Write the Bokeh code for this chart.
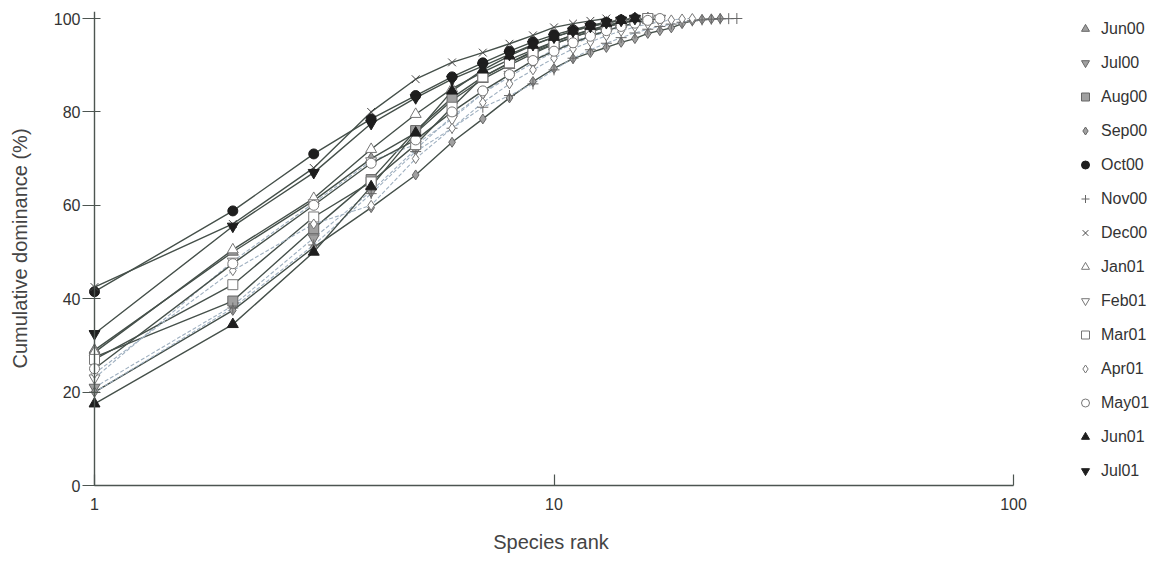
from bokeh.plotting import figure
from bokeh.models import Legend, LegendItem, FixedTicker, Range1d, Span, PrintfTickFormatter
from bokeh.embed import file_html
from bokeh.resources import INLINE

months = ["Jun00", "Jul00", "Aug00", "Sep00", "Oct00", "Nov00", "Dec00",
          "Jan01", "Feb01", "Mar01", "Apr01", "May01", "Jun01", "Jul01"]

jun00 = [29, 50, 61, 70, 75.5, 82.5, 87, 90, 92.5, 94.5, 96, 97.2, 98.2, 99, 99.5, 100]
jul00 = [21, 38.5, 53, 63, 72, 79, 84, 87.5, 90.5, 92.8, 94.5, 96, 97.2, 98.1, 98.9, 99.5, 100]
aug00 = [27.5, 39.5, 55, 65.5, 76, 83, 87.5, 90.5, 93, 95, 96.5, 97.6, 98.5, 99.2, 99.6, 100]
sep00 = [20, 37.5, 51, 59.5, 66.5, 73.5, 78.5, 83, 86.5, 89.3, 91.4, 92.7, 93.8, 94.9, 95.7,
         96.8, 97.4, 98, 98.9, 99.5, 99.8, 99.9, 100]
oct00 = [41.5, 58.8, 71, 78.5, 83.5, 87.5, 90.5, 93, 95, 96.5, 97.6, 98.5, 99.2, 99.7, 100]
nov00 = [20, 38, 51.5, 62.5, 71.5, 76.5, 81, 83.5, 86, 89, 91.5, 93.3, 94.7, 95.9, 96.9,
         97.7, 98.3, 98.8, 99.2, 99.5, 99.7, 99.85, 99.93, 99.97, 100]
dec00 = [42.5, 56, 68, 80, 87, 90.6, 92.7, 94.6, 96.4, 98.1, 98.9, 99.5, 100]
jan01 = [28.5, 50.5, 61.5, 72, 79.5, 85, 88.5, 91.2, 93.3, 95, 96.4, 97.5, 98.4, 99.1, 99.6, 100]
feb01 = [23, 48, 60.5, 69.5, 73, 78.5, 84, 88, 91, 93.3, 95, 96.4, 97.5, 98.4, 99.1, 99.7, 100]
mar01 = [27, 43, 57.5, 65, 73, 81, 87.5, 90.5, 92.8, 94.6, 96, 97.2, 98.2, 99, 99.6, 100]
apr01 = [24, 46, 56, 60, 70, 76.5, 82, 86, 89, 91.5, 93.5, 95, 96.3, 97.3, 98.2, 98.8,
         99.3, 99.7, 99.9, 100]
may01 = [25, 47.5, 60, 69, 74, 80, 84.5, 88, 91, 93, 94.8, 96.2, 97.4, 98.3, 99, 99.6, 100]
jun01 = [17.5, 34.5, 50, 64, 75.5, 84.5, 89, 92, 94.3, 96, 97.3, 98.3, 99, 99.6, 100]
jul01 = [32.5, 55.5, 67, 77.5, 83, 87, 89.8, 92.3, 94.4, 96, 97.3, 98.3, 99.1, 99.6, 100]

series = [jun00, jul00, aug00, sep00, oct00, nov00, dec00,
          jan01, feb01, mar01, apr01, may01, jun01, jul01]

x_ticks = [1, 10, 100]
y_ticks = [0, 20, 40, 60, 80, 100]

GRAY_FILL = "#a0a0a0"
GRAY_EDGE = "#666666"
BLACK = "#1e1e1e"
OPEN_EDGE = "#777777"
LINE = "#45504a"
DASH = "#9fb0c0"
AXIS = "#4d5551"

styles = {
    "Jun00": ("triangle", GRAY_FILL, GRAY_EDGE),
    "Jul00": ("inverted_triangle", GRAY_FILL, GRAY_EDGE),
    "Aug00": ("square", GRAY_FILL, GRAY_EDGE),
    "Sep00": ("diamond", GRAY_FILL, GRAY_EDGE),
    "Oct00": ("circle", BLACK, BLACK),
    "Nov00": ("cross", None, "#666666"),
    "Dec00": ("x", None, "#444444"),
    "Jan01": ("triangle", "white", OPEN_EDGE),
    "Feb01": ("inverted_triangle", "white", OPEN_EDGE),
    "Mar01": ("square", "white", OPEN_EDGE),
    "Apr01": ("diamond", "white", OPEN_EDGE),
    "May01": ("circle", "white", OPEN_EDGE),
    "Jun01": ("triangle", BLACK, BLACK),
    "Jul01": ("inverted_triangle", BLACK, BLACK),
}
dashed = {"Jul00", "Nov00", "Feb01", "Apr01"}

FONT = "Liberation Sans"

x_start = 10 ** (-6 / 459.5)
p = figure(
    x_axis_type="log",
    x_range=Range1d(x_start, 100),
    y_range=Range1d(0, 101.5),
    frame_width=925, frame_height=474,
    min_border_left=88, min_border_top=11, min_border_bottom=66, min_border_right=150,
    output_backend="svg", toolbar_location=None,
    background_fill_color="white", border_fill_color="white",
)
p.outline_line_color = None
p.xgrid.visible = False
p.ygrid.visible = False

# y axis line drawn at rank 1
p.add_layout(Span(location=1, dimension="height", line_color=AXIS, line_width=1.4))

for name, vals in zip(months, series):
    ranks = list(range(1, len(vals) + 1))
    if name in dashed:
        p.line(ranks, vals, line_color=DASH, line_width=1.1, line_dash="4 2")
    else:
        p.line(ranks, vals, line_color=LINE, line_width=1.4)

items = []
for name, vals in zip(months, series):
    ranks = list(range(1, len(vals) + 1))
    marker, fill, edge = styles[name]
    size = 10
    if marker in ("triangle", "inverted_triangle", "cross", "x"):
        size = 11
    r = p.scatter(ranks, vals, marker=marker, size=size,
                  fill_color=fill if fill else None,
                  line_color=edge, line_width=1.0)
    items.append(LegendItem(label=name, renderers=[r]))

legend = Legend(items=items, location=(62, 4))
legend.border_line_color = None
legend.background_fill_alpha = 0
legend.margin = 0
legend.padding = 12
legend.glyph_width = 20
legend.glyph_height = 21
legend.label_height = 21
legend.spacing = 13
legend.label_standoff = 6
legend.label_text_font = FONT
legend.label_text_font_size = "16px"
legend.label_text_color = "#333333"
p.add_layout(legend, "right")

for ax in (p.xaxis[0], p.yaxis[0]):
    ax.axis_line_color = AXIS
    ax.axis_line_width = 1.4
    ax.major_tick_line_color = AXIS
    ax.major_tick_line_width = 1.2
    ax.minor_tick_line_color = None
    ax.major_label_text_font = FONT
    ax.major_label_text_font_size = "16px"
    ax.major_label_text_color = "#333333"
    ax.axis_label_text_font = FONT
    ax.axis_label_text_font_size = "20px"
    ax.axis_label_text_font_style = "normal"
    ax.axis_label_text_color = "#444444"

xa = p.xaxis[0]
xa.ticker = FixedTicker(ticks=x_ticks, minor_ticks=[])
xa.formatter = PrintfTickFormatter(format="%d")
xa.bounds = (1, 100)
xa.major_tick_in = 11
xa.major_tick_out = 0
xa.major_label_standoff = 12
xa.axis_label = "Species rank"
xa.axis_label_standoff = 18

ya = p.yaxis[0]
ya.ticker = FixedTicker(ticks=y_ticks, minor_ticks=[])
ya.bounds = (0, 100)
ya.axis_line_color = None
ya.major_tick_in = 12
ya.major_tick_out = 6
ya.major_label_standoff = 2
ya.axis_label = "Cumulative dominance (%)"
ya.axis_label_standoff = 20

open("out.html", "w").write(file_html(p, INLINE))
